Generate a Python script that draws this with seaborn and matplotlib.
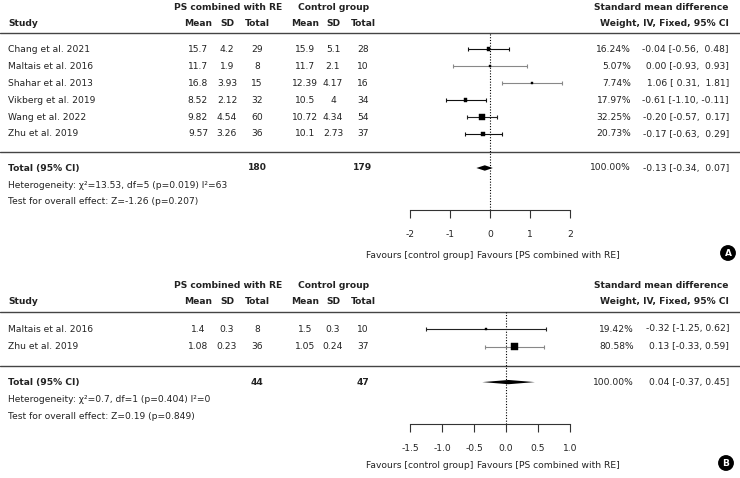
import matplotlib
matplotlib.use("Agg")
import numpy as np
import pandas as pd
import seaborn as sns
from matplotlib import pyplot as plt

# ---- panel A data ----
studies_a = ["Chang et al. 2021", "Maltais et al. 2016", "Shahar et al. 2013",
             "Vikberg et al. 2019", "Wang et al. 2022", "Zhu et al. 2019"]
ps_mean_a = [15.7, 11.7, 16.8, 8.52, 9.82, 9.57]
ps_sd_a = [4.2, 1.9, 3.93, 2.12, 4.54, 3.26]
ps_n_a = [29, 8, 15, 32, 60, 36]
ct_mean_a = [15.9, 11.7, 12.39, 10.5, 10.72, 10.1]
ct_sd_a = [5.1, 2.1, 4.17, 4, 4.34, 2.73]
ct_n_a = [28, 10, 16, 34, 54, 37]
weight_a = [16.24, 5.07, 7.74, 17.97, 32.25, 20.73]
smd_a = [-0.04, 0.00, 1.06, -0.61, -0.20, -0.17]
lo_a = [-0.56, -0.93, 0.31, -1.10, -0.57, -0.63]
hi_a = [0.48, 0.93, 1.81, -0.11, 0.17, 0.29]
total_a = {"n_ps": 180, "n_ct": 179, "smd": -0.13, "lo": -0.34, "hi": 0.07}
het_a = "Heterogeneity: χ²=13.53, df=5 (p=0.019) I²=63"
test_a = "Test for overall effect: Z=-1.26 (p=0.207)"
ticks_a = [-2, -1, 0, 1, 2]
tick_labels_a = ["-2", "-1", "0", "1", "2"]

# ---- panel B data ----
studies_b = ["Maltais et al. 2016", "Zhu et al. 2019"]
ps_mean_b = [1.4, 1.08]
ps_sd_b = [0.3, 0.23]
ps_n_b = [8, 36]
ct_mean_b = [1.5, 1.05]
ct_sd_b = [0.3, 0.24]
ct_n_b = [10, 37]
weight_b = [19.42, 80.58]
smd_b = [-0.32, 0.13]
lo_b = [-1.25, -0.33]
hi_b = [0.62, 0.59]
total_b = {"n_ps": 44, "n_ct": 47, "smd": 0.04, "lo": -0.37, "hi": 0.45}
het_b = "Heterogeneity: χ²=0.7, df=1 (p=0.404) I²=0"
test_b = "Test for overall effect: Z=0.19 (p=0.849)"
ticks_b = [-1.5, -1.0, -0.5, 0.0, 0.5, 1.0]
tick_labels_b = ["-1.5", "-1.0", "-0.5", "0.0", "0.5", "1.0"]

W, H = 740, 478
FS = 6.6
TXT = "#222222"
COLS = [198, 227, 257, 305, 333, 363]


def fmt(v) -> str:
    return format(v, "g")


def draw_panel(fig, txt, df, total, het, test, ticks, tick_labels, lay, letter):
    top = lay["top"]
    y0, pitch = lay["row0"], lay["pitch"]

    # header
    txt.text(228, top, "PS combined with RE", ha="center", va="center", fontsize=FS, weight="bold", color=TXT)
    txt.text(334, top, "Control group", ha="center", va="center", fontsize=FS, weight="bold", color=TXT)
    txt.text(729, top, "Standard mean difference", ha="right", va="center", fontsize=FS, weight="bold", color=TXT)
    y2 = top + 16.5
    txt.text(8, y2, "Study", ha="left", va="center", fontsize=FS, weight="bold", color=TXT)
    for x, lab in zip(COLS, ["Mean", "SD", "Total", "Mean", "SD", "Total"]):
        txt.text(x, y2, lab, ha="center", va="center", fontsize=FS, weight="bold", color=TXT)
    txt.text(729, y2, "Weight, IV, Fixed, 95% CI", ha="right", va="center", fontsize=FS, weight="bold", color=TXT)

    txt.axhline(lay["line1"], color="#444444", lw=1.0)
    txt.axhline(lay["line2"], color="#444444", lw=1.0)

    # study rows
    for i, r in df.iterrows():
        y = y0 + i * pitch
        txt.text(8, y, r["study"], ha="left", va="center", fontsize=FS, color=TXT)
        vals = [r["ps_mean"], r["ps_sd"], r["ps_n"], r["ct_mean"], r["ct_sd"], r["ct_n"]]
        for x, v in zip(COLS, vals):
            txt.text(x, y, fmt(v), ha="center", va="center", fontsize=FS, color=TXT)
        txt.text(lay["wx"], y, f"{r['weight']:.2f}%", ha="right", va="center", fontsize=FS, color=TXT)
        txt.text(729, y, lay["cifmt"].format(r["smd"], r["lo"], r["hi"]),
                 ha="right", va="center", fontsize=FS, color=TXT)

    # total rows
    yt = y0 + lay["total_row"] * pitch
    txt.text(8, yt, "Total (95% CI)", ha="left", va="center", fontsize=FS, weight="bold", color=TXT)
    txt.text(COLS[2], yt, str(total["n_ps"]), ha="center", va="center", fontsize=FS, weight="bold", color=TXT)
    txt.text(COLS[5], yt, str(total["n_ct"]), ha="center", va="center", fontsize=FS, weight="bold", color=TXT)
    txt.text(lay["wx"], yt, "100.00%", ha="right", va="center", fontsize=FS, color=TXT)
    txt.text(729, yt, lay["cifmt"].format(total["smd"], total["lo"], total["hi"]),
             ha="right", va="center", fontsize=FS, color=TXT)
    txt.text(8, yt + 17, het, ha="left", va="center", fontsize=FS, color=TXT)
    txt.text(8, yt + 34, test, ha="left", va="center", fontsize=FS, color=TXT)

    # forest axes
    spine = lay["spine"]
    ax = fig.add_axes([410 / W, 1 - spine / H, 160 / W, (spine - lay["line1"]) / H])
    ax.set_xlim(ticks[0], ticks[-1])
    ax.set_ylim((spine - y0) / pitch, (lay["line1"] - y0) / pitch)
    ax.axvline(0, color="black", ls=(0, (1, 1.5)), lw=0.8, zorder=1)

    rows = np.arange(len(df))
    for i, r in df.iterrows():
        ax.errorbar(r["smd"], i, xerr=[[r["smd"] - r["lo"]], [r["hi"] - r["smd"]]],
                    fmt="none", ecolor=lay["ecolors"][i], elinewidth=0.8, capsize=1.4,
                    capthick=0.8, zorder=2)
    # square side grows linearly with weight, biggest study ~6.5 px
    side_pt = np.maximum(6.6 * df["weight"] / df["weight"].max(), 2.0) / 1.389
    size_map = dict(zip(df["weight"], side_pt ** 2))
    sns.scatterplot(data=df.assign(row=rows), x="smd", y="row", size="weight", sizes=size_map,
                    marker="s", color="black", edgecolor="black", linewidth=0.3,
                    legend=False, ax=ax, zorder=3)

    tr = lay["total_row"]
    hgt = lay["diamond_h"]
    ax.fill([total["lo"], total["smd"], total["hi"], total["smd"]],
            [tr, tr - hgt, tr, tr + hgt], color="black", lw=0, zorder=3)

    ax.set_xticks(ticks)
    ax.set_xticklabels(tick_labels)
    ax.set_yticks([])
    ax.set_xlabel("")
    ax.set_ylabel("")
    sns.despine(ax=ax, left=True, top=True, right=True)
    ax.spines["bottom"].set_color("#333333")
    ax.spines["bottom"].set_linewidth(0.8)
    ax.tick_params(axis="x", bottom=True, direction="out", length=5.8, width=0.8,
                   color="#333333", labelsize=FS, labelcolor=TXT, pad=8.5)
    ax.patch.set_alpha(0)

    fy = lay["fav"]
    txt.text(473, fy, "Favours [control group]", ha="right", va="center", fontsize=FS, color=TXT)
    txt.text(477, fy, "Favours [PS combined with RE]", ha="left", va="center", fontsize=FS, color=TXT)

    txt.text(lay["badge"][0], lay["badge"][1], letter, ha="center", va="center", fontsize=6.5,
             weight="bold", color="white",
             bbox=dict(boxstyle="circle,pad=0.3", fc="black", ec="black"))


def build_df(studies, ps_mean, ps_sd, ps_n, ct_mean, ct_sd, ct_n, weight, smd, lo, hi):
    return pd.DataFrame({
        "study": studies, "ps_mean": ps_mean, "ps_sd": ps_sd, "ps_n": ps_n,
        "ct_mean": ct_mean, "ct_sd": ct_sd, "ct_n": ct_n,
        "weight": weight, "smd": smd, "lo": lo, "hi": hi,
    })


sns.set_theme(style="white")
plt.rcParams["font.family"] = ["DejaVu Sans"]
plt.rcParams["axes.unicode_minus"] = False

fig = plt.figure(figsize=(W / 100, H / 100), dpi=100)
txt = fig.add_axes([0, 0, 1, 1])
txt.set_xlim(0, W)
txt.set_ylim(H, 0)
txt.axis("off")

df_a = build_df(studies_a, ps_mean_a, ps_sd_a, ps_n_a, ct_mean_a, ct_sd_a, ct_n_a,
                weight_a, smd_a, lo_a, hi_a)
df_b = build_df(studies_b, ps_mean_b, ps_sd_b, ps_n_b, ct_mean_b, ct_sd_b, ct_n_b,
                weight_b, smd_b, lo_b, hi_b)

lay_a = dict(top=7, row0=49, pitch=17, total_row=7, line1=33, line2=152, spine=210,
             wx=631, cifmt="{:5.2f} [{:5.2f}, {:5.2f}]", fav=255, badge=(728, 253),
             diamond_h=0.16,
             ecolors=["#111111", "#888888", "#888888", "#111111", "#222222", "#111111"])
lay_b = dict(top=285, row0=329, pitch=17.7, total_row=3, line1=312, line2=366, spine=424,
             wx=634, cifmt="{:.2f} [{:.2f}, {:.2f}]", fav=465, badge=(726, 463),
             diamond_h=0.12, ecolors=["#222222", "#888888"])

draw_panel(fig, txt, df_a, total_a, het_a, test_a, ticks_a, tick_labels_a, lay_a, "A")
draw_panel(fig, txt, df_b, total_b, het_b, test_b, ticks_b, tick_labels_b, lay_b, "B")

fig.savefig("out.png", dpi=100, facecolor="white")
